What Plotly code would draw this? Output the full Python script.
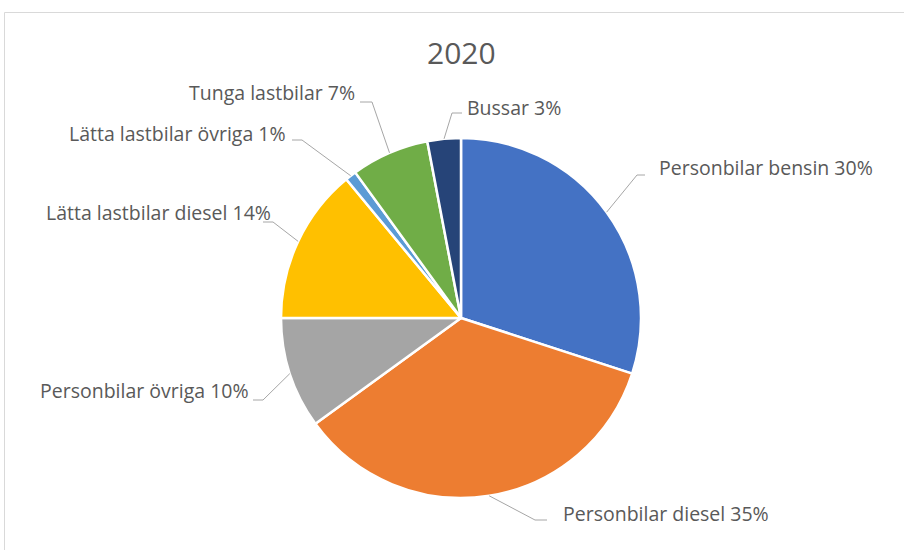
import math
import plotly.graph_objects as go

# ---- data ----
categories = ["Personbilar bensin", "Personbilar diesel", "Personbilar övriga",
              "Lätta lastbilar diesel", "Lätta lastbilar övriga", "Tunga lastbilar", "Bussar"]
shares = [30, 35, 10, 14, 1, 7, 3]
colors = ["#4472C4", "#ED7D31", "#A5A5A5", "#FFC000", "#5B9BD5", "#70AD47", "#264478"]
title_text = "2020"

# ---- layout (pixels in a 904x550 canvas) ----
W, H = 904, 550
CX, CY, R = 461, 318, 180
# label placement: (text x, text y-center, anchor, hline end near text x, elbow x, line y)
label_pos = [
    (657, 167, "left", 645, 637, 175),
    (561, 513, "left", 547, 535, 520),
    (251, 390, "right", 253, 263, 400),
    (273, 213, "right", 263, 273, 222),
    (288, 133, "right", 292, 302, 140),
    (357, 93, "right", 360, 372, 102),
    (465, 108, "left", 462, 452, 113),
]
FONT = "Open Sans, Lato, sans-serif"

def px(x):
    return x / W

def py(y):
    return 1 - y / H

fig = go.Figure(go.Pie(
    labels=categories,
    values=shares,
    marker=dict(colors=colors, line=dict(color="white", width=2.5)),
    sort=False,
    direction="clockwise",
    rotation=0,
    textinfo="none",
    hoverinfo="label+percent",
    domain=dict(x=[px(CX - R), px(CX + R)], y=[py(CY + R), py(CY - R)]),
    showlegend=False,
))

total = sum(shares)
shapes = []
annotations = []
cum = 0
for cat, v, lp in zip(categories, shares, label_pos):
    mid = (cum + v / 2) / total * 2 * math.pi
    cum += v
    sx = CX + R * math.sin(mid)
    sy = CY - R * math.cos(mid)
    tx, ty, anchor, hx, ex, ly = lp
    shapes.append(dict(type="path", xref="paper", yref="paper",
                       path=f"M {px(sx)},{py(sy)} L {px(ex)},{py(ly)} L {px(hx)},{py(ly)}",
                       line=dict(color="#A6A6A6", width=1)))
    pct = round(v / total * 100)
    annotations.append(dict(x=px(tx), y=py(ty), xref="paper", yref="paper",
                            text=f"{cat} {pct}%", showarrow=False,
                            xanchor=anchor, yanchor="middle",
                            font=dict(family=FONT, size=19.5, color="#595959")))

annotations.append(dict(x=px(CX), y=py(53), xref="paper", yref="paper", text=title_text,
                        showarrow=False, xanchor="center", yanchor="middle",
                        font=dict(family=FONT, size=30, color="#595959")))

# chart-area border (top and left edges visible)
shapes.append(dict(type="line", xref="paper", yref="paper", x0=px(4.5), x1=1.01,
                   y0=py(12.5), y1=py(12.5), line=dict(color="#D9D9D9", width=1)))
shapes.append(dict(type="line", xref="paper", yref="paper", x0=px(4.5), x1=px(4.5),
                   y0=py(12.5), y1=-0.01, line=dict(color="#D9D9D9", width=1)))

fig.update_layout(
    width=W, height=H,
    margin=dict(l=0, r=0, t=0, b=0),
    paper_bgcolor="white",
    plot_bgcolor="white",
    shapes=shapes,
    annotations=annotations,
)

fig.write_html("out.html", config={"displayModeBar": False},
               post_script="document.body.style.margin='0';document.body.style.overflow='hidden';")
